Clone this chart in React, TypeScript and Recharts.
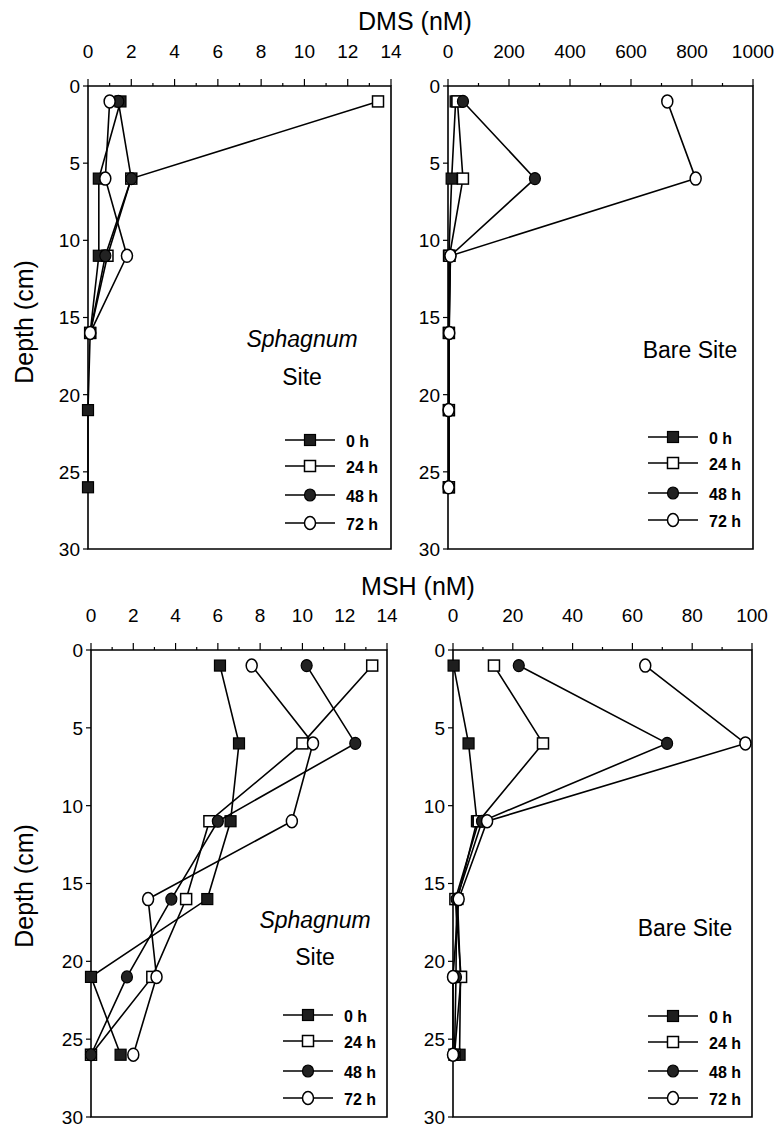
import React from "react";
import { ScatterChart, Scatter, XAxis, YAxis, ReferenceArea } from "recharts";

const FONT = "'Liberation Sans', Arial, Helvetica, sans-serif";

// depth of each sample (cm)
const depths = [1, 6, 11, 16, 21, 26];
const depthTicks = [0, 5, 10, 15, 20, 25, 30];
const seriesNames = ["0 h", "24 h", "48 h", "72 h"];

// DMS (nM), Sphagnum site
const dmsSph0h = [1.5, 0.5, 0.5, 0.1, 0, 0];
const dmsSph24h = [13.4, 2.0, 0.9, 0.1];
const dmsSph48h = [1.4, 2.0, 0.8, 0.1];
const dmsSph72h = [1.0, 0.8, 1.8, 0.1];

// DMS (nM), bare site
const dmsBare0h = [25, 12, 3, 3, 3, 3];
const dmsBare24h = [31, 49, 5, 3, 3, 3];
const dmsBare48h = [49, 285, 8, 3, 3, 3];
const dmsBare72h = [719, 812, 8, 4, 2, 2];

// MSH (nM), Sphagnum site
const mshSph0h = [6.1, 7.0, 6.6, 5.5, 0, 1.4];
const mshSph24h = [13.3, 10.0, 5.6, 4.5, 2.9, 0];
const mshSph48h = [10.2, 12.5, 6.0, 3.8, 1.7, 0];
const mshSph72h = [7.6, 10.5, 9.5, 2.7, 3.1, 2.0];

// MSH (nM), bare site
const mshBare0h = [0.2, 5.2, 8.0, 1.5, 2.5, 2.2];
const mshBare24h = [13.7, 30.1, 8.6, 0.8, 2.7, 0.5];
const mshBare48h = [22, 71.6, 9.7, 1.2, 1.0, 0.5];
const mshBare72h = [64.3, 97.8, 11.4, 1.9, 0, 0];

// x axis ticks
const ticks14 = [0, 2, 4, 6, 8, 10, 12, 14];
const minor14 = [1, 3, 5, 7, 9, 11, 13];
const ticks1000 = [0, 200, 400, 600, 800, 1000];
const minor1000 = [100, 300, 500, 700, 900];
const ticks100 = [0, 20, 40, 60, 80, 100];
const minor100 = [10, 30, 50, 70, 90];

const toPoints = (vals: number[]) => vals.map((v, i) => ({ x: v, y: depths[i] }));

type MarkerKind = "fsq" | "osq" | "fci" | "oci";
const markerKinds: MarkerKind[] = ["fsq", "osq", "fci", "oci"];

function Marker({ kind, cx, cy }: { kind: MarkerKind; cx: number; cy: number }) {
  if (kind === "fsq")
    return <rect x={cx - 5.5} y={cy - 5.5} width={11} height={11} fill="#1e1e1e" stroke="#000" strokeWidth={1.2} />;
  if (kind === "osq")
    return <rect x={cx - 5.5} y={cy - 5.5} width={11} height={11} fill="#fff" stroke="#000" strokeWidth={1.5} />;
  if (kind === "fci")
    return <ellipse cx={cx} cy={cy} rx={5.5} ry={6} fill="#222" stroke="#000" strokeWidth={1.2} />;
  return <ellipse cx={cx} cy={cy} rx={5.5} ry={6.5} fill="#fff" stroke="#000" strokeWidth={1.5} />;
}

type PanelProps = {
  left: number;
  top: number;
  right: number;
  bottom: number;
  xMax: number;
  major: number[];
  minor: number[];
  series: number[][];
  legendX: number;
  legendY: number[];
};

function Panel({ left, top, right, bottom, xMax, major, minor, series, legendX, legendY }: PanelProps) {
  const plotW = right - left;
  const plotH = bottom - top;
  const W = plotW + 100;
  const H = plotH + 60;
  const majorSet = new Set(major);
  const allTicks = [...major, ...minor].sort((a, b) => a - b);

  const XTick = (p: any) => {
    const v = p.payload.value;
    const isMajor = majorSet.has(v);
    return (
      <g>
        <line x1={p.x} x2={p.x} y1={p.y} y2={p.y - (isMajor ? 7 : 3)} stroke="#000" strokeWidth={1.2} />
        {isMajor && (
          <text x={p.x} y={p.y - 28} textAnchor="middle" fontSize={19} fontFamily={FONT} fill="#000">
            {v}
          </text>
        )}
      </g>
    );
  };

  const YTick = (p: any) => (
    <g>
      <line x1={p.x} x2={p.x - 5} y1={p.y} y2={p.y} stroke="#000" strokeWidth={1.2} />
      <text x={p.x - 8} y={p.y} dy="0.36em" textAnchor="end" fontSize={19} fontFamily={FONT} fill="#000">
        {p.payload.value}
      </text>
    </g>
  );

  const RTick = (p: any) => (
    <line x1={p.x} x2={p.x - 4} y1={p.y} y2={p.y} stroke="#000" strokeWidth={1.2} />
  );

  return (
    <>
      <div style={{ position: "absolute", left: left - 60, top: top - 50 }}>
        <ScatterChart width={W} height={H} margin={{ top: 20, right: 40, bottom: 10, left: 10 }}>
          <XAxis
            dataKey="x"
            type="number"
            orientation="top"
            domain={[0, xMax]}
            ticks={allTicks}
            interval={0}
            height={30}
            tickSize={0}
            tickMargin={0}
            tickLine={false}
            axisLine={false}
            tick={XTick}
          />
          <YAxis
            dataKey="y"
            type="number"
            reversed
            domain={[0, 30]}
            ticks={depthTicks}
            interval={0}
            width={50}
            tickSize={0}
            tickMargin={0}
            tickLine={false}
            axisLine={false}
            tick={YTick}
          />
          <YAxis
            yAxisId="r"
            orientation="right"
            type="number"
            reversed
            domain={[0, 30]}
            ticks={depthTicks.slice(1, -1)}
            interval={0}
            width={0}
            tickSize={0}
            tickMargin={0}
            tickLine={false}
            axisLine={false}
            tick={RTick}
          />
          <ReferenceArea
            x1={0}
            x2={xMax}
            y1={0}
            y2={30}
            fill="none"
            stroke="#000"
            strokeWidth={1.6}
            ifOverflow="visible"
          />
          {series.map((vals, i) => (
            <Scatter
              key={seriesNames[i]}
              name={seriesNames[i]}
              data={toPoints(vals)}
              line={{ stroke: "#000", strokeWidth: 1.6 }}
              shape={(p: any) => <Marker kind={markerKinds[i]} cx={p.cx} cy={p.cy} />}
              isAnimationActive={false}
            />
          ))}
        </ScatterChart>
      </div>
      <svg
        style={{ position: "absolute", left: legendX, top: legendY[0] - 12, overflow: "visible" }}
        width={110}
        height={legendY[3] - legendY[0] + 24}
      >
        {seriesNames.map((n, i) => {
          const y = legendY[i] - legendY[0] + 12;
          return (
            <g key={n}>
              <line x1={0} x2={50} y1={y} y2={y} stroke="#000" strokeWidth={1.6} />
              <Marker kind={markerKinds[i]} cx={25} cy={y} />
              <text x={61} y={y} dy="0.45em" fontSize={16} fontWeight={700} fontFamily={FONT} fill="#000">
                {n}
              </text>
            </g>
          );
        })}
      </svg>
    </>
  );
}

const txt = (extra: React.CSSProperties): React.CSSProperties => ({
  position: "absolute",
  fontFamily: FONT,
  color: "#000",
  whiteSpace: "nowrap",
  transform: "translate(-50%, -50%)",
  ...extra,
});

export default function App() {
  return (
    <div style={{ position: "absolute", left: 0, top: 0, width: 782, height: 1136, background: "#fff", overflow: "hidden" }}>
      <div style={txt({ left: 415, top: 21, fontSize: 25 })}>DMS (nM)</div>
      <div style={txt({ left: 418, top: 586, fontSize: 25 })}>MSH (nM)</div>
      <div style={txt({ left: 24, top: 322, fontSize: 25, transform: "translate(-50%, -50%) rotate(-90deg)" })}>
        Depth (cm)
      </div>
      <div style={txt({ left: 24, top: 886, fontSize: 25, transform: "translate(-50%, -50%) rotate(-90deg)" })}>
        Depth (cm)
      </div>

      <Panel
        left={88}
        top={86}
        right={391}
        bottom={549}
        xMax={14}
        major={ticks14}
        minor={minor14}
        series={[dmsSph0h, dmsSph24h, dmsSph48h, dmsSph72h]}
        legendX={285}
        legendY={[440, 466, 495, 523]}
      />
      <Panel
        left={448}
        top={86}
        right={753}
        bottom={549}
        xMax={1000}
        major={ticks1000}
        minor={minor1000}
        series={[dmsBare0h, dmsBare24h, dmsBare48h, dmsBare72h]}
        legendX={648}
        legendY={[437, 463, 493, 520]}
      />
      <Panel
        left={91}
        top={650}
        right={387}
        bottom={1117}
        xMax={14}
        major={ticks14}
        minor={minor14}
        series={[mshSph0h, mshSph24h, mshSph48h, mshSph72h]}
        legendX={283}
        legendY={[1015, 1041, 1071, 1098]}
      />
      <Panel
        left={453}
        top={650}
        right={752}
        bottom={1117}
        xMax={100}
        major={ticks100}
        minor={minor100}
        series={[mshBare0h, mshBare24h, mshBare48h, mshBare72h]}
        legendX={648}
        legendY={[1016, 1042, 1071, 1098]}
      />

      <div style={txt({ left: 302, top: 339, fontSize: 23, fontStyle: "italic" })}>Sphagnum</div>
      <div style={txt({ left: 302, top: 377, fontSize: 23 })}>Site</div>
      <div style={txt({ left: 690, top: 350, fontSize: 23 })}>Bare Site</div>
      <div style={txt({ left: 315, top: 920, fontSize: 23, fontStyle: "italic" })}>Sphagnum</div>
      <div style={txt({ left: 315, top: 957, fontSize: 23 })}>Site</div>
      <div style={txt({ left: 685, top: 928, fontSize: 23 })}>Bare Site</div>
    </div>
  );
}
